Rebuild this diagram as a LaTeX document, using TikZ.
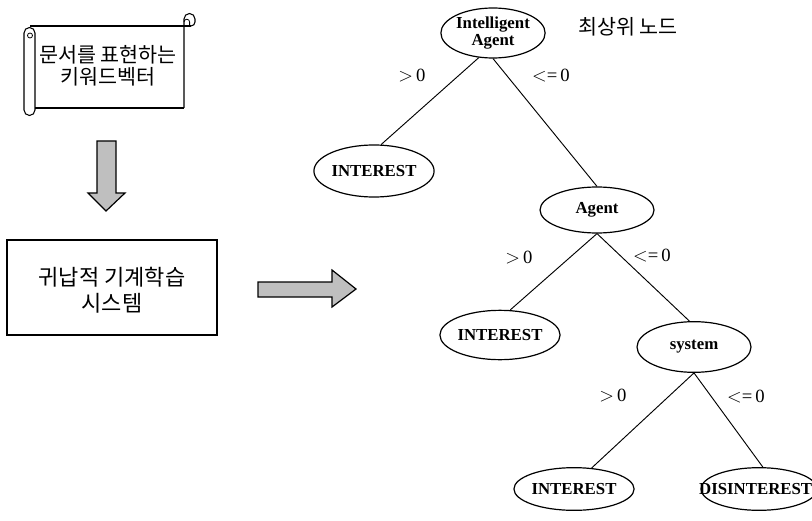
\documentclass[tikz,border=0pt]{standalone}
\usepackage{fontspec}
\setmainfont{Liberation Serif}
\newfontfamily\kr{Noto Sans CJK KR}
\usetikzlibrary{shapes.geometric}

\begin{document}
\begin{tikzpicture}[x=0.75pt, y=-0.75pt,
         edge/.style={black, line width=0.7pt},
         split/.style={ellipse, draw, line width=0.9pt, inner sep=0pt,
                       minimum width=85.5pt, minimum height=38pt,
                       font=\fontsize{12.6pt}{12.75pt}\selectfont\bfseries, align=center},
         cond/.style={font=\fontsize{14pt}{16pt}\selectfont},
         hangul/.style={font=\kr\fontsize{15.5pt}{16.5pt}\selectfont, align=center},
         block arrow/.style={draw, line width=0.9pt, fill=black!25, line join=miter}
      ]
   \clip (0,0) rectangle (812,520);

   % input: scroll with keyword vector
   \draw[line width=0.8pt] (30,26) -- (191,26);
   \draw[line width=0.8pt] (184,108) -- (184,19) arc[start angle=180, end angle=360, radius=5.5]
        -- (195,22) arc[start angle=0, end angle=90, radius=4];
   \draw[line width=0.6pt] (184,22) arc[start angle=180, end angle=360, radius=2.8] -- (189.6,26);
   \draw[line width=0.8pt] (24,33) arc[start angle=180, end angle=360, radius=5.5];
   \draw[line width=0.8pt] (24,33) -- (24,110) arc[start angle=180, end angle=0, radius=5.5] -- (35,33);
   \draw[line width=0.6pt] (30,35.5) circle[radius=2.5];
   \draw[line width=0.8pt] (35,108) -- (184,108);
   \node[hangul, font=\kr\fontsize{15.5pt}{16.5pt}\selectfont] (doc) at (108,66) {문서를 표현하는\\키워드벡터};

   \draw[block arrow] (97,141) -- (116,141) -- (116,193) -- (125,193) -- (106,211)
        -- (88,193) -- (97,193) -- cycle;

   % learner
   \node[draw, line width=0.8pt, minimum width=157.5pt, minimum height=71.25pt] (learner) at (112,287.5) {};
   \node[hangul, font=\kr\fontsize{16.5pt}{19.5pt}\selectfont] (learnerL) at (112,290) {귀납적 기계학습\\시스템};

   \draw[block arrow] (258,282) -- (332,282) -- (332,270) -- (356,289) -- (332,307)
        -- (332,297) -- (258,297) -- cycle;

   % decision tree
   \node[split, minimum width=72pt, minimum height=37.5pt] (ia) at (493,33) {Intelligent\\Agent};
   \node[hangul] (rootL) at (628,27) {최상위 노드};
   \node[split, minimum height=39pt] (int1) at (374,171) {INTEREST};
   \node[split, minimum height=34.5pt] (agent) at (597,210) {Agent};
   \node[split, minimum height=37pt] (int2) at (500,335) {INTEREST};
   \node[split] (sys) at (694,347) {system};
   \node[split, minimum width=87pt, minimum height=32pt] (int3) at (574,489) {INTEREST};
   \node[split, minimum width=87pt, minimum height=32pt] (dis) at (759,489) {\makebox[0pt]{\hspace*{-5pt}DISINTEREST}};

   \node[cond] (c1) at (412,76) {$>$\,0};
   \node[cond] (c2) at (551,76) {$<$=\,0};
   \node[cond] (c3) at (519,258) {$>$\,0};
   \node[cond] (c4) at (652,256) {$<$=\,0};
   \node[cond] (c5) at (613,396) {$>$\,0};
   \node[cond] (c6) at (746,397) {$<$=\,0};

   \begin{scope}[edge]
      \draw (ia.240) -- (int1.75);
      \draw (ia.south) -- (agent.north);
      \draw (agent.south) -- (int2.68);
      \draw (agent.south) -- (sys.100);
      \draw (sys.south) -- (int3.50);
      \draw (sys.south) -- (dis.80);
   \end{scope}
\end{tikzpicture}
\end{document}
